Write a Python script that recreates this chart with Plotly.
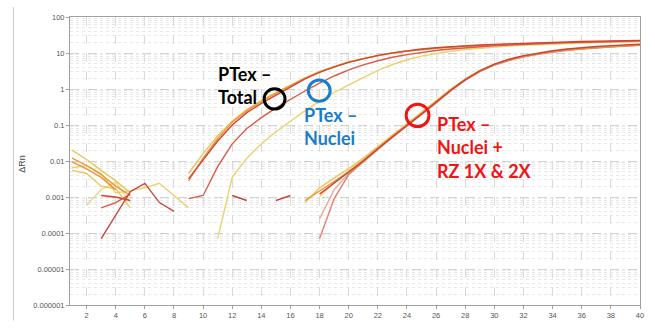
import plotly.graph_objects as go

# Amplification plot: ΔRn per cycle (log scale), one trace per well
cycles = list(range(1, 41))
N = None

# PTex – Total / PTex – Nuclei wells (early group)
g1_orange = [0.012, 0.0075, 0.0042, 0.002, 0.0011, N, N, N, 0.0028, 0.012,
             0.042, 0.12, 0.25, 0.45, 0.76, 1.25, 2.0, 3.0, 4.2, 5.6,
             7.0, 8.5, 10.0, 11.4, 12.6, 13.7, 14.7, 15.5, 16.2, 16.9,
             17.5, 18.1, 18.6, 19.1, 19.6, 20.0, 20.4, 20.8, 21.2, 21.6]
g1_red = [N, N, 0.0011, 0.001, 0.0008, N, N, N, 0.0032, 0.011,
          0.036, 0.1, 0.22, 0.4, 0.68, 1.15, 1.9, 2.9, 4.1, 5.5,
          7.0, 8.6, 10.1, 11.6, 12.9, 14.0, 15.0, 15.9, 16.7, 17.4,
          18.1, 18.7, 19.3, 19.8, 20.3, 20.8, 21.2, 21.6, 22.0, 22.4]
g1_yellow = [0.02, 0.011, 0.0055, 0.0028, 0.0013, N, N, N, 0.0045, 0.016,
             0.05, 0.13, 0.27, 0.48, 0.8, 1.3, 2.05, 3.1, 4.3, 5.7,
             7.1, 8.5, 9.9, 11.2, 12.4, 13.4, 14.3, 15.1, 15.8, 16.5,
             17.1, 17.7, 18.2, 18.7, 19.2, 19.6, 20.0, 20.4, 20.8, 21.2]
g1_pink = [N, N, 0.0005, 0.0007, 0.0012, N, N, N, 0.0009, 0.0011,
           0.007, 0.03, 0.08, 0.16, 0.3, 0.52, 0.88, 1.45, 2.3, 3.4,
           4.7, 6.1, 7.6, 9.0, 10.4, 11.7, 12.9, 14.0, 15.0, 15.9,
           16.7, 17.5, 18.2, 18.8, 19.4, 19.9, 20.4, 20.9, 21.3, 21.7]
g1_nuclei = [0.0065, 0.0075, 0.0045, 0.0013, 0.0015, 0.0018, 0.0024, 0.0011, 0.0005, N,
             0.00007, 0.0035, 0.012, 0.03, 0.065, 0.13, 0.25, 0.46, 0.8, 1.3,
             2.1, 3.3, 4.8, 6.5, 8.2, 9.8, 11.2, 12.5, 13.6, 14.6,
             15.5, 16.3, 17.0, 17.7, 18.3, 18.9, 19.4, 19.9, 20.3, 20.7]

# PTex – Nuclei + RZ 1X & 2X wells (late group)
g2_orange = [0.0095, 0.006, 0.0035, 0.0016, N, N, N, N, N, N,
             N, N, N, N, N, N, 0.0008, 0.0015, 0.0027, 0.005,
             0.0105, 0.023, 0.049, 0.1, 0.21, 0.44, 0.95, 1.85, 3.2, 4.8,
             6.5, 8.1, 9.6, 11.0, 12.3, 13.4, 14.4, 15.3, 16.1, 16.9]
g2_red = [N, N, 0.00007, 0.0003, 0.0014, 0.0024, 0.0007, 0.0004, N, N,
          N, 0.0011, 0.0008, N, 0.0008, 0.0011, N, 0.0012, 0.0024, 0.0048,
          0.01, 0.022, 0.047, 0.098, 0.2, 0.43, 0.92, 1.8, 3.2, 4.9,
          6.7, 8.4, 10.0, 11.5, 12.9, 14.1, 15.1, 16.0, 16.8, 17.5]
g2_yellow = [0.0055, 0.0045, 0.002, 0.0017, 0.0005, N, N, N, N, N,
             N, N, N, N, N, N, 0.0007, 0.0018, 0.0034, 0.0062,
             0.012, 0.025, 0.052, 0.105, 0.22, 0.46, 0.98, 1.9, 3.3, 4.9,
             6.5, 8.0, 9.4, 10.7, 11.9, 12.9, 13.9, 14.8, 15.6, 16.3]
g2_salmon = [N, N, N, N, N, N, N, N, N, N,
             N, N, N, N, N, N, N, 0.00007, 0.0009, 0.0042,
             0.0095, 0.021, 0.045, 0.094, 0.19, 0.41, 0.9, 1.75, 3.05, 4.6,
             6.2, 7.8, 9.3, 10.7, 11.9, 13.0, 14.0, 14.9, 15.7, 16.4]
g2_light = [N, N, N, N, N, N, N, N, N, N,
            N, N, N, N, N, N, N, 0.00025, 0.0016, 0.0045,
            0.01, 0.022, 0.047, 0.097, 0.2, 0.42, 0.9, 1.8, 3.1, 4.7,
            6.3, 7.9, 9.4, 10.8, 12.0, 13.1, 14.1, 15.0, 15.8, 16.5]
g2_pale = [N, 0.0006, 0.0016, 0.0026, 0.0007, N, N, N, N, N,
           N, N, N, N, N, N, N, 0.001, 0.0025, 0.0055,
           0.011, 0.024, 0.05, 0.102, 0.21, 0.45, 0.96, 1.85, 3.2, 4.8,
           6.4, 8.0, 9.5, 10.9, 12.1, 13.2, 14.2, 15.1, 15.9, 16.6]

series = [
    (g2_pale, "#EDD889"), (g1_nuclei, "#E8D36E"), (g1_yellow, "#E6C85A"),
    (g2_yellow, "#E6C85A"), (g2_light, "#EBAA92"), (g2_salmon, "#E0826E"),
    (g1_orange, "#E8963A"), (g2_orange, "#E8963A"), (g1_pink, "#D85A48"),
    (g2_red, "#C8453A"), (g1_red, "#D2452F"),
]

y_ticks = [1e-6, 1e-5, 1e-4, 1e-3, 1e-2, 1e-1, 1, 10, 100]
y_labels = ["0.000001", "0.00001", "0.0001", "0.001", "0.01", "0.1", "1", "10", "100"]
x_ticks = list(range(2, 41, 2))

fig = go.Figure()
for vals, col in series:
    fig.add_trace(go.Scatter(x=cycles, y=vals, mode="lines",
                             line=dict(color=col, width=1.4),
                             connectgaps=False, hoverinfo="skip"))

W, H = 655, 331
L, R, T, B = 70, 11, 17, 17
PW, PH = W - L - R, H - T - B


def fx(px):
    return (px - L) / PW


def fy(py):
    return (H - B - py) / PH


tick_font = dict(family="Liberation Sans, Arial, sans-serif", size=7.5, color="#555")

fig.update_layout(
    width=W, height=H,
    margin=dict(l=L, r=R, t=T, b=B),
    paper_bgcolor="white", plot_bgcolor="white",
    showlegend=False,
    xaxis=dict(range=[0.86, 40], tickmode="array", tickvals=x_ticks,
               ticktext=[str(v) for v in x_ticks], tickfont=tick_font,
               showgrid=True, gridcolor="#dadada", griddash="dash", gridwidth=1,
               showline=True, linecolor="#a0a0a0", mirror=True,
               ticks="outside", ticklen=3, tickcolor="#a0a0a0", zeroline=False),
    yaxis=dict(type="log", range=[-6, 2], tickmode="array", tickvals=y_ticks,
               ticktext=y_labels, tickfont=tick_font,
               showgrid=True, gridcolor="#d2d2d2", griddash="dash", gridwidth=1,
               minor=dict(showgrid=True, dtick="D1", gridcolor="#e8e8e8",
                          griddash="dot", gridwidth=1),
               showline=True, linecolor="#a0a0a0", mirror=True,
               ticks="outside", ticklen=3, tickcolor="#a0a0a0", zeroline=False),
)

label_font = "Lato, Calibri, sans-serif"
fig.add_annotation(x=fx(217), y=fy(88), xref="paper", yref="paper",
                   text="<b>PTex –<br>Total</b>", showarrow=False,
                   xanchor="left", yanchor="middle", align="left",
                   font=dict(family=label_font, size=18, color="#000000"))
fig.add_annotation(x=fx(304), y=fy(130), xref="paper", yref="paper",
                   text="<b>PTex –<br>Nuclei</b>", showarrow=False,
                   xanchor="left", yanchor="middle", align="left",
                   font=dict(family=label_font, size=18, color="#1B7CC9"))
fig.add_annotation(x=fx(438), y=fy(151.5), xref="paper", yref="paper",
                   text="<b>PTex –<br>Nuclei +<br>RZ 1X &amp; 2X</b>", showarrow=False,
                   xanchor="left", yanchor="middle", align="left",
                   font=dict(family=label_font, size=18, color="#F01414"))

fig.add_annotation(x=fx(22), y=fy(168), xref="paper", yref="paper",
                   text="ΔRn", showarrow=False, textangle=-90,
                   xanchor="center", yanchor="middle",
                   font=dict(family="Liberation Sans, Arial, sans-serif", size=9, color="#444"))

# Highlight rings
for cx, cy, r, col in [(276, 101.5, 10.5, "#000000"),
                       (321, 93, 11, "#1B7CC9"),
                       (420, 118.5, 11.5, "#F01414")]:
    fig.add_shape(type="circle", xref="paper", yref="paper",
                  x0=fx(cx - r), x1=fx(cx + r), y0=fy(cy + r), y1=fy(cy - r),
                  line=dict(color=col, width=3))

# slide frame edge on the left
fig.add_shape(type="line", xref="paper", yref="paper",
              x0=fx(13), x1=fx(13), y0=fy(7), y1=fy(330),
              line=dict(color="#c8c8c8", width=1))

fig.write_html("out.html")
